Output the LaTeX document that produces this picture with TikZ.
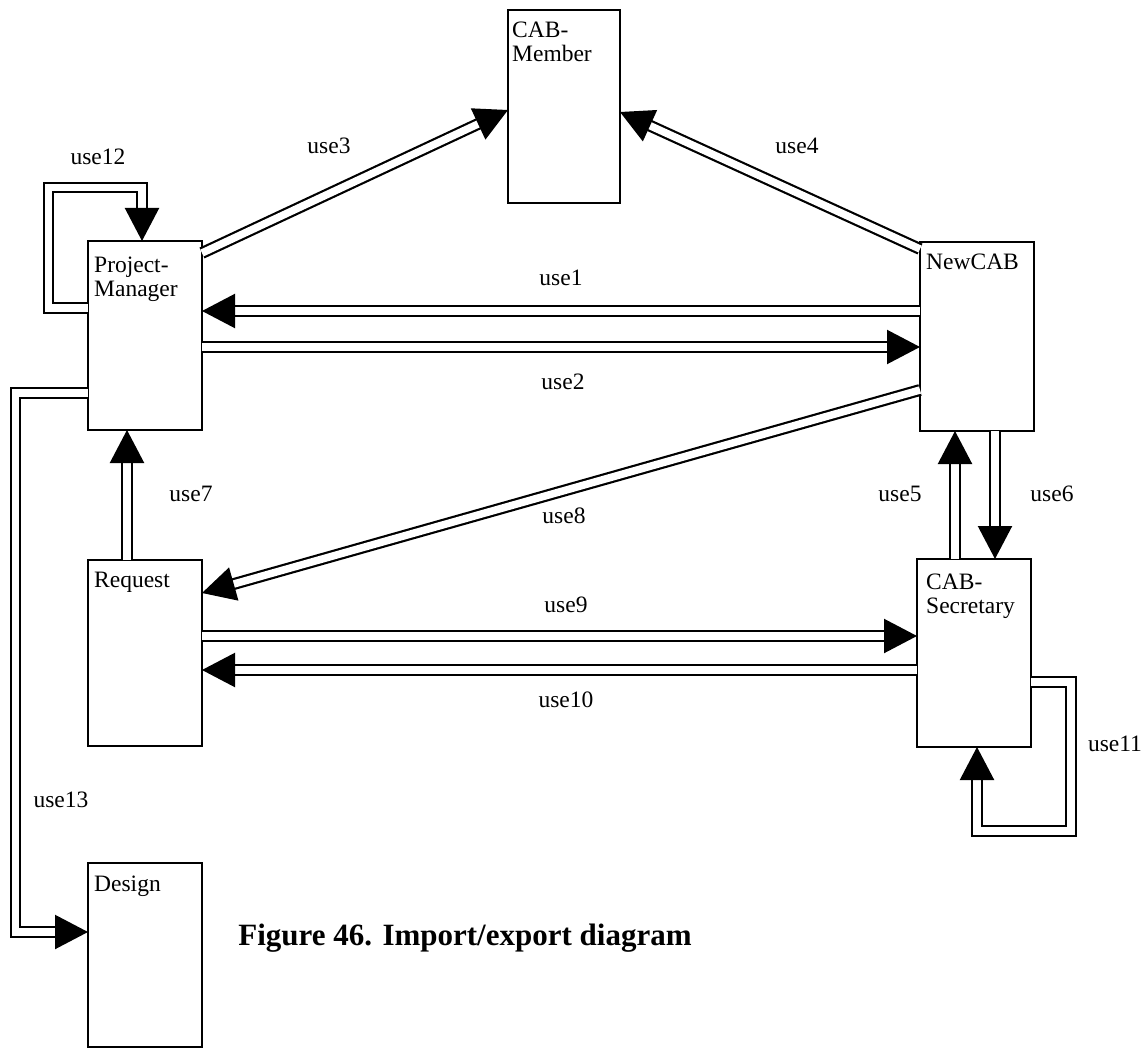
\documentclass[tikz,border=0pt]{standalone}
\usepackage{fontspec}
\setmainfont{Liberation Serif}
\usetikzlibrary{arrows.meta,calc}
\begin{document}
\begin{tikzpicture}[x=1pt,y=-1pt,
  box/.style={draw, line width=1.2pt, rectangle, outer sep=0pt, inner sep=0pt, anchor=north west},
  boxtext/.style={anchor=north west, inner sep=0pt, align=left, font=\fontsize{23.5}{24}\selectfont},
  conn/.style={double, double distance=7.5pt, line width=2.2pt, -{Triangle[length=33pt,width=34pt]}},
  lbl/.style={font=\fontsize{23.5}{24}\selectfont, inner sep=0pt},
  ]
\useasboundingbox (0,0) rectangle (1148,1048);
% boxes
\node[box, minimum width=114pt, minimum height=189pt] (pm) at (88,241) {};
\node[box, minimum width=114pt, minimum height=189pt] (nc) at (920,242) {};
\node[box, minimum width=112pt, minimum height=193pt] (cm) at (508,10) {};
\node[box, minimum width=114pt, minimum height=186pt] (rq) at (88,560) {};
\node[box, minimum width=114pt, minimum height=188pt] (cs) at (917,559) {};
\node[box, minimum width=114pt, minimum height=184pt] (ds) at (88,863) {};
% box texts
\node[boxtext] (pmt) at ($(pm.north west)+(6,16)$) {Project-\\Manager};
\node[boxtext] (nct) at ($(nc.north west)+(6,12)$) {NewCAB};
\node[boxtext] (cmt) at ($(cm.north west)+(4,12)$) {CAB-\\Member};
\node[boxtext] (rqt) at ($(rq.north west)+(6,12)$) {Request};
\node[boxtext] (cst) at ($(cs.north west)+(9,15)$) {CAB-\\Secretary};
\node[boxtext] (dst) at ($(ds.north west)+(6,13)$) {Design};
% connectors
\draw[conn] ($(nc.north west)+(0,69)$) -- ($(pm.north east)+(0,70)$);
\draw[conn] ($(pm.north east)+(0,106)$) -- ($(nc.north west)+(0,105)$);
\draw[conn] ($(pm.north east)+(0,12)$) -- ($(cm.north west)+(0,100)$);
\draw[conn] ($(nc.north west)+(0,7)$) -- ($(cm.north east)+(0,102)$);
\draw[conn] ($(cs.north west)+(38,0)$) -- ($(nc.south west)+(35,0)$);
\draw[conn] ($(nc.south west)+(75,0)$) -- ($(cs.north west)+(78,0)$);
\draw[conn] ($(rq.north west)+(39,0)$) -- ($(pm.south west)+(39,0)$);
\draw[conn] ($(nc.north west)+(0,148)$) -- ($(rq.north east)+(0,33)$);
\draw[conn] ($(rq.north east)+(0,76)$) -- ($(cs.north west)+(0,77)$);
\draw[conn] ($(cs.north west)+(0,111)$) -- ($(rq.north east)+(0,110)$);
\draw[conn] ($(cs.north east)+(0,123)$) -- ++(40,0) -- ++(0,149) -- ++(-94,0) -- ($(cs.south west)+(60,0)$);
\draw[conn] ($(pm.north west)+(0,67)$) -- ++(-39.5,0) -- ++(0,-120.5) -- ++(93.5,0) -- ($(pm.north west)+(54,0)$);
\draw[conn] ($(pm.north west)+(0,152)$) -- ++(-72.5,0) -- ++(0,539) -- ($(ds.north west)+(0,69)$);
% labels
\node[lbl] (l12) at (98,157) {use12};
\node[lbl] (l3) at (329,146) {use3};
\node[lbl] (l4) at (797,146) {use4};
\node[lbl] (l1) at (561,278) {use1};
\node[lbl] (l2) at (563,382) {use2};
\node[lbl] (l7) at (191,494) {use7};
\node[lbl] (l5) at (900,494) {use5};
\node[lbl] (l6) at (1052,494) {use6};
\node[lbl] (l8) at (564,516) {use8};
\node[lbl] (l9) at (566,605) {use9};
\node[lbl] (l10) at (566,700) {use10};
\node[lbl] (l11) at (1115,744) {use11};
\node[lbl] (l13) at (61,800) {use13};
\node[font=\fontsize{31}{36}\selectfont\bfseries] (cap) at (465,938) {Figure 46. Import/export diagram};
\end{tikzpicture}
\end{document}
